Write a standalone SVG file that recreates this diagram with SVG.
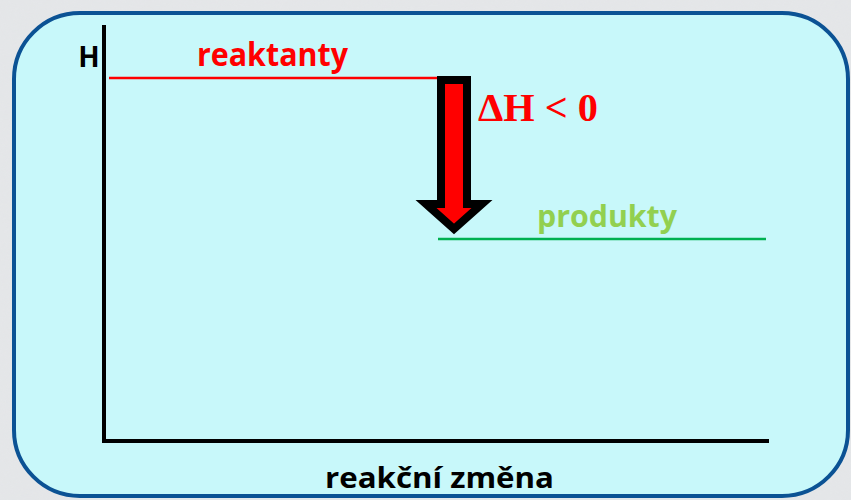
<svg xmlns="http://www.w3.org/2000/svg" width="851" height="500" viewBox="0 0 851 500">
<style>
.lbl{font-family:"Open Sans","Liberation Sans",Arial,sans-serif;font-weight:bold}
.axis{stroke:#000;stroke-width:4;fill:none}
</style>
<defs>
<filter id="marble" x="0" y="0" width="100%" height="100%">
<feTurbulence type="fractalNoise" baseFrequency="0.012 0.04" numOctaves="4" seed="3"/>
<feColorMatrix type="matrix" values="0 0 0 0 0.78  0 0 0 0 0.79  0 0 0 0 0.81  -1.4 0 0 0 1.2"/>
</filter>
</defs>
<rect x="0" y="0" width="851" height="500" fill="#e4e6e8"/>
<rect x="0" y="0" width="851" height="500" filter="url(#marble)" opacity="0.8"/>
<g id="panel">
<rect x="14" y="13" width="834" height="483" rx="66" ry="66" fill="#c8f8fa" stroke="#0b5294" stroke-width="4"/>
</g>
<g id="axes">
<line class="axis" x1="104" y1="25" x2="104" y2="442"/>
<line class="axis" x1="102" y1="441" x2="769" y2="441"/>
<text class="lbl" x="89" y="67" font-size="28" text-anchor="middle" fill="#000">H</text>
<text class="lbl" x="325" y="488" font-size="28.5" textLength="229" lengthAdjust="spacingAndGlyphs" fill="#000">reakční změna</text>
</g>
<g id="reaktanty">
<line x1="109" y1="78" x2="441" y2="78" stroke="#ff0000" stroke-width="2.5"/>
<text class="lbl" x="197" y="66" font-size="31.5" textLength="151" lengthAdjust="spacingAndGlyphs" fill="#ff0000">reaktanty</text>
</g>
<g id="produkty">
<line x1="438" y1="239" x2="766" y2="239" stroke="#00b050" stroke-width="2.5"/>
<text class="lbl" x="537" y="227" font-size="30.5" textLength="140" lengthAdjust="spacingAndGlyphs" fill="#92d050">produkty</text>
</g>
<g id="connectors">
<polygon points="441,80 467,80 467,204 482,204 454,229 426,204 441,204" fill="#ff0000" stroke="#000" stroke-width="8" stroke-linejoin="miter"/>
</g>
<g id="deltaH">
<text x="478" y="121" font-family="'Liberation Serif','Times New Roman',serif" font-weight="bold" font-size="41" textLength="120" lengthAdjust="spacingAndGlyphs" fill="#ff0000">ΔH &lt; 0</text>
</g>
</svg>
